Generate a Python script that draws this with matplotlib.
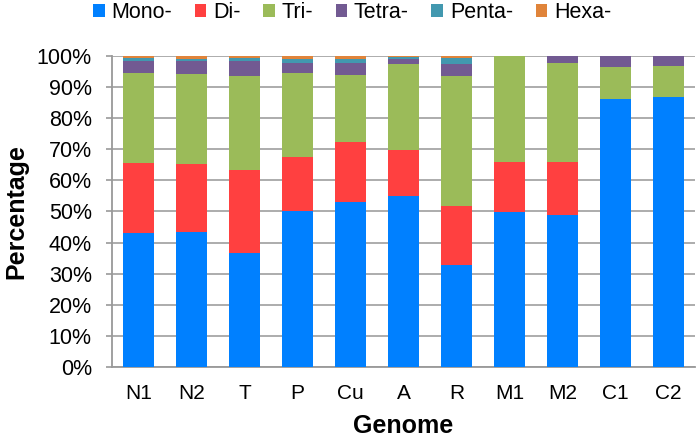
import numpy as np
import matplotlib.pyplot as plt
from matplotlib.ticker import PercentFormatter

plt.rcParams['font.family'] = ['Liberation Sans', 'DejaVu Sans']

# Genomes and repeat-type percentages
genomes = ['N1', 'N2', 'T', 'P', 'Cu', 'A', 'R', 'M1', 'M2', 'C1', 'C2']
mono = [43.0, 43.5, 36.8, 50.3, 53.2, 55.1, 32.9, 49.9, 48.9, 86.1, 86.9]
di = [22.5, 21.7, 26.5, 17.3, 19.2, 14.7, 18.9, 16.0, 17.0, 0.0, 0.0]
tri = [29.1, 29.2, 30.4, 27.0, 21.4, 27.8, 41.9, 34.1, 31.9, 10.4, 9.8]
tetra = [3.8, 4.0, 4.8, 3.2, 4.0, 1.4, 3.9, 0.0, 2.2, 3.5, 3.3]
penta = [0.9, 0.8, 0.9, 1.3, 1.2, 0.6, 1.7, 0.0, 0.0, 0.0, 0.0]
hexa = [0.7, 0.8, 0.6, 0.9, 1.0, 0.4, 0.7, 0.0, 0.0, 0.0, 0.0]

series = [mono, di, tri, tetra, penta, hexa]
names = ['Mono-', 'Di-', 'Tri-', 'Tetra-', 'Penta-', 'Hexa-']
colors = ['#0080FF', '#FF4040', '#9BBB59', '#725A92', '#4298AF', '#E0843A']

fig = plt.figure(figsize=(7, 4.42), dpi=100)
ax = fig.add_axes([0.16, 0.17, 0.833, 0.703])

x = np.arange(len(genomes))
bottom = np.zeros(len(genomes))
for vals, name, col in zip(series, names, colors):
    ax.bar(x, vals, bottom=bottom, width=0.57, color=col, label=name, zorder=3)
    bottom += np.array(vals)

ax.set_ylim(0, 100)
ax.set_xlim(-0.5, len(genomes) - 0.5)
ax.set_yticks(np.arange(0, 101, 10))
ax.yaxis.set_major_formatter(PercentFormatter(decimals=0))
ax.set_xticks(x)
ax.set_xticklabels(genomes)
ax.tick_params(axis='y', labelsize=15.5, length=4.5, color='#999999', width=1.2, pad=10)
ax.tick_params(axis='x', labelsize=15, length=0, pad=12)
ax.grid(axis='y', color='#A6A6A6', linewidth=1.3, zorder=0)

for s in ['top', 'right']:
    ax.spines[s].set_visible(False)
for s in ['left', 'bottom']:
    ax.spines[s].set_color('#999999')
    ax.spines[s].set_linewidth(1.3)

ax.set_ylabel('Percentage', fontsize=18, fontweight='bold', labelpad=6)
ax.set_xlabel('Genome', fontsize=18, fontweight='bold', labelpad=8)

fig.legend(loc='center left', bbox_to_anchor=(93 / 700, 1 - 13 / 442), ncol=6,
           frameon=False, fontsize=15.5, handlelength=0.55, handleheight=0.55,
           handletextpad=0.3, columnspacing=1.05, borderpad=0, borderaxespad=0)

fig.savefig('out.png', dpi=100)
